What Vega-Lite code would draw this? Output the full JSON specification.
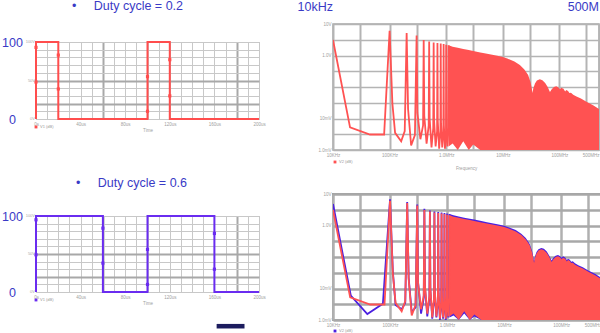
{
  "$schema": "https://vega.github.io/schema/vega-lite/v6.json",
  "background": "white",
  "padding": {"left": 1, "top": 0, "right": 0, "bottom": 0},
  "spacing": 30,
  "config": {
    "font": "Liberation Sans",
    "view": {"stroke": "#b0b0b0", "strokeWidth": 1},
    "axis": {"domain": false, "ticks": false, "labelFont": "Liberation Sans", "labelFontSize": 4.5, "labelColor": "#a0a0a0", "titleFont": "Liberation Sans", "titleFontSize": 4.5, "titleColor": "#a0a0a0", "titleFontWeight": "normal", "gridOpacity": 1, "labelOverlap": false, "labelPadding": 2, "titlePadding": 2, "labelBound": false, "labelFlush": false},
    "title": {"font": "Liberation Sans", "fontSize": 12.5, "fontWeight": "normal", "color": "#3a3ac6", "anchor": "start", "frame": "group", "baseline": "alphabetic"}
  },
  "datasets": {
    "sq02": [{"i":0,"t":0,"v":0},{"i":1,"t":0,"v":100},{"i":2,"t":20,"v":100},{"i":3,"t":20,"v":0},{"i":4,"t":100,"v":0},{"i":5,"t":100,"v":100},{"i":6,"t":120,"v":100},{"i":7,"t":120,"v":0},{"i":8,"t":200,"v":0}],
    "mk02": [{"t":0,"v":93},{"t":0,"v":48},{"t":20,"v":83},{"t":20,"v":39},{"t":100,"v":55},{"t":100,"v":10},{"t":120,"v":77},{"t":120,"v":30}],
    "sq06": [{"i":0,"t":0,"v":0},{"i":1,"t":0,"v":100},{"i":2,"t":60,"v":100},{"i":3,"t":60,"v":0},{"i":4,"t":100,"v":0},{"i":5,"t":100,"v":100},{"i":6,"t":160,"v":100},{"i":7,"t":160,"v":0},{"i":8,"t":200,"v":0}],
    "mk06": [{"t":0,"v":95},{"t":0,"v":49},{"t":60,"v":84},{"t":60,"v":38},{"t":100,"v":56},{"t":100,"v":10},{"t":160,"v":77},{"t":160,"v":30}],
    "vlab": [{"t":0,"v":100,"lab":"100V"},{"t":0,"v":50,"lab":"50V"},{"t":0,"v":0,"lab":"0V"}],
    "redLine": [{"f":1e4,"v":3.1},{"f":2.0e4,"v":0.0052},{"f":4.5e4,"v":0.0031},{"f":8.0e4,"v":0.0031},{"f":1.0e5,"v":6.1},{"f":1.12e5,"v":0.03},{"f":1.25e5,"v":0.0035},{"f":1.6e5,"v":0.0019},{"f":1.85e5,"v":0.004},{"f":2.0e5,"v":5.2},{"f":2.12e5,"v":0.02},{"f":2.4e5,"v":0.0014},{"f":2.8e5,"v":0.003},{"f":3.0e5,"v":4.3},{"f":3.1e5,"v":0.015},{"f":3.5e5,"v":0.0022},{"f":3.9e5,"v":0.006},{"f":4.0e5,"v":3.1},{"f":4.1e5,"v":0.012},{"f":4.5e5,"v":0.0016},{"f":4.9e5,"v":0.006},{"f":5.0e5,"v":2.8},{"f":5.1e5,"v":0.01},{"f":5.5e5,"v":0.0012},{"f":5.9e5,"v":0.005},{"f":6.0e5,"v":2.6},{"f":6.1e5,"v":0.009},{"f":6.5e5,"v":0.0013},{"f":6.9e5,"v":0.004},{"f":7.0e5,"v":2.5},{"f":7.1e5,"v":0.008},{"f":7.5e5,"v":0.0011},{"f":7.9e5,"v":0.004},{"f":8.0e5,"v":2.4},{"f":8.1e5,"v":0.007},{"f":8.5e5,"v":0.0012},{"f":8.9e5,"v":0.004},{"f":9.0e5,"v":2.3},{"f":9.1e5,"v":0.006},{"f":9.5e5,"v":0.0011},{"f":9.9e5,"v":0.004},{"f":1.0e6,"v":2.2},{"f":1.01e6,"v":0.005},{"f":1.05e6,"v":0.0013},{"f":1.09e6,"v":0.004},{"f":1.1e6,"v":2.1}],
    "redArea": [{"f":1.1e6,"v":2.1,"v0":0.0013},{"f":1.3e6,"v":1.9,"v0":0.0016},{"f":1.6e6,"v":1.75,"v0":0.001},{"f":2.0e6,"v":1.6,"v0":0.0019},{"f":2.5e6,"v":1.5,"v0":0.001},{"f":3.0e6,"v":1.4,"v0":0.0015},{"f":4.0e6,"v":1.25,"v0":0.001},{"f":5.0e6,"v":1.15,"v0":0.001},{"f":6.5e6,"v":1.05,"v0":0.001},{"f":8.0e6,"v":0.98,"v0":0.001},{"f":1.0e7,"v":0.9,"v0":0.001},{"f":1.2e7,"v":0.8,"v0":0.001},{"f":1.6e7,"v":0.65,"v0":0.001},{"f":2.0e7,"v":0.5,"v0":0.001},{"f":2.4e7,"v":0.36,"v0":0.001},{"f":2.8e7,"v":0.24,"v0":0.001},{"f":3.1e7,"v":0.14,"v0":0.001},{"f":3.25e7,"v":0.09,"v0":0.001},{"f":3.35e7,"v":0.065,"v0":0.001},{"f":3.45e7,"v":0.09,"v0":0.001},{"f":3.7e7,"v":0.13,"v0":0.001},{"f":4.0e7,"v":0.16,"v0":0.001},{"f":4.5e7,"v":0.175,"v0":0.001},{"f":5.0e7,"v":0.165,"v0":0.001},{"f":5.6e7,"v":0.135,"v0":0.001},{"f":6.2e7,"v":0.1,"v0":0.001},{"f":6.8e7,"v":0.07,"v0":0.001},{"f":7.3e7,"v":0.085,"v0":0.001},{"f":8.0e7,"v":0.1,"v0":0.001},{"f":8.8e7,"v":0.105,"v0":0.001},{"f":9.5e7,"v":0.098,"v0":0.001},{"f":1.02e8,"v":0.085,"v0":0.001},{"f":1.08e8,"v":0.095,"v0":0.001},{"f":1.18e8,"v":0.088,"v0":0.001},{"f":1.26e8,"v":0.072,"v0":0.001},{"f":1.32e8,"v":0.08,"v0":0.001},{"f":1.42e8,"v":0.074,"v0":0.001},{"f":1.5e8,"v":0.064,"v0":0.001},{"f":1.6e8,"v":0.066,"v0":0.001},{"f":1.75e8,"v":0.057,"v0":0.001},{"f":2.0e8,"v":0.05,"v0":0.001},{"f":2.4e8,"v":0.043,"v0":0.001},{"f":3.0e8,"v":0.034,"v0":0.001},{"f":4.0e8,"v":0.026,"v0":0.001},{"f":5.0e8,"v":0.02,"v0":0.001}],
    "blueLine": [{"f":1e4,"v":4.8},{"f":2.05e4,"v":0.006},{"f":4.0e4,"v":0.00155},{"f":7.5e4,"v":0.0033},{"f":1.0e5,"v":6.8},{"f":1.12e5,"v":0.035},{"f":1.25e5,"v":0.003},{"f":1.6e5,"v":0.0022},{"f":1.85e5,"v":0.0035},{"f":2.0e5,"v":5.6},{"f":2.12e5,"v":0.022},{"f":2.4e5,"v":0.0018},{"f":2.8e5,"v":0.0025},{"f":3.0e5,"v":4.6},{"f":3.1e5,"v":0.016},{"f":3.5e5,"v":0.0016},{"f":3.9e5,"v":0.005},{"f":4.0e5,"v":3.4},{"f":4.1e5,"v":0.011},{"f":4.5e5,"v":0.0013},{"f":4.9e5,"v":0.005},{"f":5.0e5,"v":3.0},{"f":5.1e5,"v":0.009},{"f":5.5e5,"v":0.0011},{"f":5.9e5,"v":0.004},{"f":6.0e5,"v":2.8},{"f":6.1e5,"v":0.008},{"f":6.5e5,"v":0.0012},{"f":6.9e5,"v":0.0035},{"f":7.0e5,"v":2.7},{"f":7.1e5,"v":0.007},{"f":7.5e5,"v":0.001},{"f":7.9e5,"v":0.0035},{"f":8.0e5,"v":2.6},{"f":8.1e5,"v":0.006},{"f":8.5e5,"v":0.0011},{"f":8.9e5,"v":0.0035},{"f":9.0e5,"v":2.5},{"f":9.1e5,"v":0.005},{"f":9.5e5,"v":0.001},{"f":9.9e5,"v":0.0035},{"f":1.0e6,"v":2.4},{"f":1.01e6,"v":0.0045},{"f":1.05e6,"v":0.0012},{"f":1.09e6,"v":0.0035},{"f":1.1e6,"v":2.3}],
    "blueArea": [{"f":1.1e6,"v":2.3,"v0":0.0012},{"f":1.3e6,"v":2.1,"v0":0.0014},{"f":1.6e6,"v":1.92,"v0":0.001},{"f":2.0e6,"v":1.76,"v0":0.0016},{"f":2.5e6,"v":1.65,"v0":0.001},{"f":3.0e6,"v":1.54,"v0":0.0013},{"f":4.0e6,"v":1.38,"v0":0.001},{"f":5.0e6,"v":1.27,"v0":0.001},{"f":6.5e6,"v":1.16,"v0":0.001},{"f":8.0e6,"v":1.08,"v0":0.001},{"f":1.0e7,"v":0.99,"v0":0.001},{"f":1.2e7,"v":0.88,"v0":0.001},{"f":1.6e7,"v":0.72,"v0":0.001},{"f":2.0e7,"v":0.55,"v0":0.001},{"f":2.4e7,"v":0.4,"v0":0.001},{"f":2.8e7,"v":0.265,"v0":0.001},{"f":3.1e7,"v":0.155,"v0":0.001},{"f":3.25e7,"v":0.1,"v0":0.001},{"f":3.35e7,"v":0.072,"v0":0.001},{"f":3.45e7,"v":0.1,"v0":0.001},{"f":3.7e7,"v":0.145,"v0":0.001},{"f":4.0e7,"v":0.176,"v0":0.001},{"f":4.5e7,"v":0.193,"v0":0.001},{"f":5.0e7,"v":0.182,"v0":0.001},{"f":5.6e7,"v":0.149,"v0":0.001},{"f":6.2e7,"v":0.11,"v0":0.001},{"f":6.8e7,"v":0.078,"v0":0.001},{"f":7.3e7,"v":0.094,"v0":0.001},{"f":8.0e7,"v":0.11,"v0":0.001},{"f":8.8e7,"v":0.116,"v0":0.001},{"f":9.5e7,"v":0.108,"v0":0.001},{"f":1.02e8,"v":0.094,"v0":0.001},{"f":1.08e8,"v":0.105,"v0":0.001},{"f":1.18e8,"v":0.097,"v0":0.001},{"f":1.26e8,"v":0.08,"v0":0.001},{"f":1.32e8,"v":0.088,"v0":0.001},{"f":1.42e8,"v":0.082,"v0":0.001},{"f":1.5e8,"v":0.071,"v0":0.001},{"f":1.6e8,"v":0.073,"v0":0.001},{"f":1.75e8,"v":0.063,"v0":0.001},{"f":2.0e8,"v":0.055,"v0":0.001},{"f":2.4e8,"v":0.047,"v0":0.001},{"f":3.0e8,"v":0.037,"v0":0.001},{"f":4.0e8,"v":0.029,"v0":0.001},{"f":5.0e8,"v":0.022,"v0":0.001}]
  },
  "hconcat": [
    {
      "spacing": 43,
      "vconcat": [
        {
          "spacing": 5,
          "vconcat": [
            {
              "width": 223, "height": 1,
              "view": {"stroke": null},
              "title": {"text": "•\u00a0\u00a0\u00a0\u00a0\u00a0Duty cycle = 0.2", "dx": 36, "offset": 6},
              "data": {"values": [{"lab": ""}]},
              "mark": {"type": "text"},
              "encoding": {"text": {"field": "lab"}}
            },
            {
              "width": 223, "height": 77,
              "encoding": {
                "x": {"field": "t", "type": "quantitative", "scale": {"domain": [0, 200], "nice": false, "zero": false},
                      "axis": {"values": [0,10,20,30,40,50,60,70,80,90,100,110,120,130,140,150,160,170,180,190,200], "labelExpr": "datum.value == 0 ? '0s' : (datum.value % 40 == 0 ? datum.value + 'us' : '')", "title": "Time",
                               "gridWidth": {"condition": {"test": "datum.value == 60 || datum.value == 180", "value": 2}, "value": 1},
                               "gridColor": {"condition": {"test": "datum.value == 60 || datum.value == 180", "value": "#a8a8a8"}, "value": "#c8c8c8"}}},
                "y": {"field": "v", "type": "quantitative", "scale": {"domain": [0, 100], "nice": false},
                      "axis": {"values": [0,10,20,30,40,50,60,70,80,90,100], "labelExpr": "datum.value == 100 ? '100' : (datum.value == 0 ? '0' : '')", "title": null, "labelFontSize": 12.5, "labelColor": "#3a3ac6", "labelAlign": "center", "labelBaseline": "middle", "labelPadding": 24,
                               "gridWidth": {"condition": {"test": "datum.value == 50 || datum.value == 20", "value": 2}, "value": 1},
                               "gridColor": {"condition": {"test": "datum.value == 50 || datum.value == 20", "value": "#a8a8a8"}, "value": "#c8c8c8"}}}
              },
              "layer": [
                {"data": {"name": "sq02"}, "mark": {"type": "line", "color": "#ff4d4d", "strokeWidth": 2}, "encoding": {"order": {"field": "i", "type": "quantitative"}}},
                {"data": {"name": "mk02"}, "mark": {"type": "square", "color": "#ff4d4d", "size": 10, "opacity": 1}},
                {"data": {"name": "vlab"}, "mark": {"type": "text", "align": "right", "baseline": "middle", "dx": -1, "fontSize": 4, "color": "#aaaaaa"}, "encoding": {"text": {"field": "lab"}}},
                {"data": {"values": [{"t": 0, "v": 0}]}, "mark": {"type": "square", "color": "#ff4d4d", "size": 8, "opacity": 1, "yOffset": 8}},
                {"data": {"values": [{"t": 0, "v": 0, "lab": "V1 (dB)"}]}, "mark": {"type": "text", "align": "left", "baseline": "middle", "dx": 4, "dy": 8, "fontSize": 4, "color": "#999999"}, "encoding": {"text": {"field": "lab"}}}
              ]
            }
          ]
        },
        {
          "width": 223, "height": 76,
          "title": {"text": "•\u00a0\u00a0\u00a0\u00a0\u00a0Duty cycle = 0.6", "dx": 40, "offset": 20.5},
          "encoding": {
            "x": {"field": "t", "type": "quantitative", "scale": {"domain": [0, 200], "nice": false, "zero": false},
                  "axis": {"values": [0,10,20,30,40,50,60,70,80,90,100,110,120,130,140,150,160,170,180,190,200], "labelExpr": "datum.value == 0 ? '0s' : (datum.value % 40 == 0 ? datum.value + 'us' : '')", "title": "Time",
                           "gridWidth": {"condition": {"test": "datum.value == 60 || datum.value == 180", "value": 2}, "value": 1},
                           "gridColor": {"condition": {"test": "datum.value == 60 || datum.value == 180", "value": "#a8a8a8"}, "value": "#c8c8c8"}}},
            "y": {"field": "v", "type": "quantitative", "scale": {"domain": [0, 100], "nice": false},
                  "axis": {"values": [0,10,20,30,40,50,60,70,80,90,100], "labelExpr": "datum.value == 100 ? '100' : (datum.value == 0 ? '0' : '')", "title": null, "labelFontSize": 12.5, "labelColor": "#3a3ac6", "labelAlign": "center", "labelBaseline": "middle", "labelPadding": 24,
                           "gridWidth": {"condition": {"test": "datum.value == 50 || datum.value == 20", "value": 2}, "value": 1},
                           "gridColor": {"condition": {"test": "datum.value == 50 || datum.value == 20", "value": "#a8a8a8"}, "value": "#c8c8c8"}}}
          },
          "layer": [
            {"data": {"name": "sq06"}, "mark": {"type": "line", "color": "#6a2cf0", "strokeWidth": 2}, "encoding": {"order": {"field": "i", "type": "quantitative"}}},
            {"data": {"name": "mk06"}, "mark": {"type": "square", "color": "#6a2cf0", "size": 10, "opacity": 1}},
            {"data": {"name": "vlab"}, "mark": {"type": "text", "align": "right", "baseline": "middle", "dx": -1, "fontSize": 4, "color": "#aaaaaa"}, "encoding": {"text": {"field": "lab"}}},
            {"data": {"values": [{"t": 0, "v": 0}]}, "mark": {"type": "square", "color": "#6a2cf0", "size": 8, "opacity": 1, "yOffset": 8}},
            {"data": {"values": [{"t": 0, "v": 0, "lab": "V1 (dB)"}]}, "mark": {"type": "text", "align": "left", "baseline": "middle", "dx": 4, "dy": 8, "fontSize": 4, "color": "#999999"}, "encoding": {"text": {"field": "lab"}}},
            {"data": {"values": [{"t": 162, "t2": 187, "v": -42, "v2": -48}]}, "mark": {"type": "rect", "color": "#1c1c5e"}, "encoding": {"x2": {"field": "t2"}, "y2": {"field": "v2"}}}
          ]
        }
      ]
    },
    {
      "spacing": 19,
      "vconcat": [
        {
          "width": 266, "height": 126,
          "view": {"stroke": "#a8a8a8", "strokeWidth": 1.5},
          "encoding": {
            "x": {"field": "f", "type": "quantitative", "scale": {"type": "log", "domain": [1e4, 5e8], "nice": false},
                  "axis": {"values": [1e4,3e4,1e5,3e5,1e6,3e6,1e7,3e7,1e8,3e8,5e8], "labelExpr": "datum.value == 10000 ? '10KHz' : datum.value == 100000 ? '100KHz' : datum.value == 1000000 ? '1.0MHz' : datum.value == 10000000 ? '10MHz' : datum.value == 100000000 ? '100MHz' : datum.value == 500000000 ? '500MHz' : ''", "title": "Frequency", "titlePadding": 9, "gridWidth": 2, "gridColor": "#b4b4b4",
                           "labelAlign": {"condition": {"test": "datum.value >= 500000000", "value": "right"}, "value": "center"}}},
            "y": {"field": "v", "type": "quantitative", "scale": {"type": "log", "domain": [0.001, 10], "nice": false},
                  "axis": {"values": [0.001,0.00316,0.01,0.0316,0.1,0.316,1,3.16,10], "labelExpr": "datum.value == 10 ? '10V' : datum.value == 1 ? '1.0V' : datum.value == 0.01 ? '10mV' : datum.value == 0.001 ? '1.0mV' : ''", "title": null, "gridWidth": 1.5, "gridColor": "#b4b4b4"}}
          },
          "layer": [
            {"data": {"name": "redArea"}, "mark": {"type": "area", "color": "#ff5252", "opacity": 1, "clip": true}, "encoding": {"y2": {"field": "v0"}}},
            {"data": {"name": "redLine"}, "mark": {"type": "line", "color": "#ff5252", "strokeWidth": 1.8, "clip": true}},
            {"data": {"values": [{"f": 1e4, "v": 10, "lab": "10kHz"}, {"f": 5e8, "v": 10, "lab": "500M"}]}, "mark": {"type": "text", "align": "right", "baseline": "alphabetic", "dy": -13, "fontSize": 12.5, "color": "#3a3ac6"}, "encoding": {"text": {"field": "lab"}}},
            {"data": {"values": [{"f": 1e4, "v": 0.001}]}, "mark": {"type": "square", "color": "#ff5252", "size": 8, "opacity": 1, "yOffset": 12, "xOffset": 2}},
            {"data": {"values": [{"f": 1e4, "v": 0.001, "lab": "V2 (dB)"}]}, "mark": {"type": "text", "align": "left", "baseline": "middle", "dx": 6, "dy": 12, "fontSize": 4, "color": "#999999"}, "encoding": {"text": {"field": "lab"}}}
          ]
        },
        {
          "width": 268, "height": 126,
          "view": {"stroke": "#a0a0a0", "strokeWidth": 2},
          "encoding": {
            "x": {"field": "f", "type": "quantitative", "scale": {"type": "log", "domain": [1e4, 5e8], "nice": false},
                  "axis": {"values": [1e4,3e4,1e5,3e5,1e6,3e6,1e7,3e7,1e8,3e8,5e8], "labelExpr": "datum.value == 10000 ? '10KHz' : datum.value == 100000 ? '100KHz' : datum.value == 1000000 ? '1.0MHz' : datum.value == 10000000 ? '10MHz' : datum.value == 100000000 ? '100MHz' : datum.value == 500000000 ? '500MHz' : ''", "title": null, "gridWidth": 2.5, "gridColor": "#b0b0b0",
                           "labelAlign": {"condition": {"test": "datum.value >= 500000000", "value": "right"}, "value": "center"}}},
            "y": {"field": "v", "type": "quantitative", "scale": {"type": "log", "domain": [0.001, 10], "nice": false},
                  "axis": {"values": [0.001,0.00316,0.01,0.0316,0.1,0.316,1,3.16,10], "labelExpr": "datum.value == 10 ? '10V' : datum.value == 1 ? '1.0V' : datum.value == 0.01 ? '10mV' : datum.value == 0.001 ? '1.0mV' : ''", "title": null, "gridWidth": 2.5, "gridColor": "#a8a8a8"}}
          },
          "layer": [
            {"data": {"name": "blueArea"}, "mark": {"type": "area", "color": "#4b20e0", "opacity": 1, "clip": true}, "encoding": {"y2": {"field": "v0"}}},
            {"data": {"name": "blueLine"}, "mark": {"type": "line", "color": "#4b20e0", "strokeWidth": 1.8, "clip": true}},
            {"data": {"name": "redArea"}, "mark": {"type": "area", "color": "#ff5252", "opacity": 1, "clip": true}, "encoding": {"y2": {"field": "v0"}}},
            {"data": {"name": "redLine"}, "mark": {"type": "line", "color": "#ff5252", "strokeWidth": 1.8, "clip": true}},
            {"data": {"values": [{"f": 1e4, "v": 0.001}]}, "mark": {"type": "square", "color": "#4b20e0", "size": 8, "opacity": 1, "yOffset": 11, "xOffset": 2}},
            {"data": {"values": [{"f": 1e4, "v": 0.001, "lab": "V2 (dB)"}]}, "mark": {"type": "text", "align": "left", "baseline": "middle", "dx": 6, "dy": 11, "fontSize": 4, "color": "#999999"}, "encoding": {"text": {"field": "lab"}}}
          ]
        }
      ]
    }
  ]
}
